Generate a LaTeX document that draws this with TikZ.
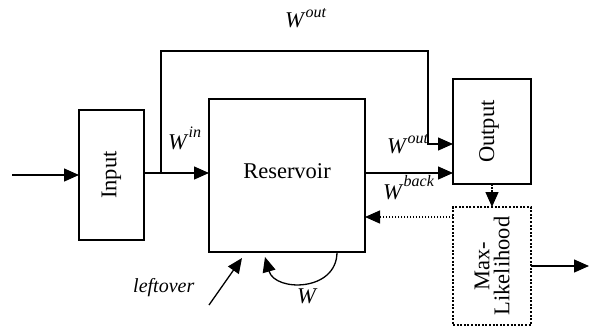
\documentclass[tikz,border=0pt]{standalone}
\usepackage{fontspec}
\setmainfont{Liberation Serif}
\usetikzlibrary{arrows.meta}
\newcommand{\Wsup}[2][11]{\textit{W}\raisebox{#1pt}{\fontsize{16}{16}\selectfont\textit{#2}}}
\begin{document}
\begin{tikzpicture}[x=1pt,y=-1pt,
  box/.style={draw,line width=2pt,inner sep=0pt,outer sep=0pt},
  dotbox/.style={box,dash pattern=on 2pt off 1.6pt},
  conn/.style={line width=1.3pt},
  arr/.style={conn,-{Triangle[length=15pt,width=13pt]}},
  dotarr/.style={arr,dash pattern=on 1.5pt off 1.5pt},
  lab/.style={font=\fontsize{22.5}{20}\selectfont,inner sep=0pt}]
\useasboundingbox (0,0) rectangle (590,327);
% boxes
\node[box,minimum width=65pt,minimum height=130pt] (input) at (111.5,175) {};
\node[box,minimum width=156pt,minimum height=153pt] (res) at (287,175.5) {};
\node[box,minimum width=78pt,minimum height=105pt] (out) at (492,131.5) {};
\node[dotbox,minimum width=78pt,minimum height=118pt] (ml) at (492,266) {};
% box texts
\node[lab,rotate=90] (intext) at (input.center) {Input};
\node[lab,anchor=base] (restext) at (287,178) {Reservoir};
\node[lab,rotate=90] (outtext) at ([xshift=-3pt]out.center) {Output};
\node[lab,rotate=90,align=center] (mltext) at (ml.center) {Max-\\Likelihood};
% coordinates
\coordinate (src) at (12,175);
\coordinate (j) at (161,173);
\coordinate (t1) at (161,51);
\coordinate (t2) at (428,144);
\coordinate (k) at (400,217);
\coordinate (sink) at (589,266);
\coordinate (lo1) at (209,305);
\coordinate (lo2) at (242,258);
\coordinate (w1) at (337,252);
\coordinate (w2) at (265,257);
% connectors
\draw[arr] (src) -- (input.west |- src);
\draw[arr] (input.east |- j) -- (res.west |- j);
\draw[arr] (j) -- (t1) -| (t2) -- (out.west |- t2);
\draw[arr] (res.east |- j) -- (out.west |- j);
\draw[dotarr] (out.south) -- (ml.north);
\draw[dotarr] (ml.west |- k) -- (res.east |- k);
\draw[arr] (ml.east) -- (sink);
\draw[arr] (lo1) -- (lo2);
\draw[arr] (w1) .. controls (337,292) and (275,292) .. (w2);
% labels
\node[lab,anchor=base west] (wout1) at (285,27) {\Wsup[10]{out}};
\node[lab,anchor=base west] (wout2) at (387,153) {\Wsup[10]{out}};
\node[lab,anchor=base west] (win) at (168,149) {\Wsup[12]{in}};
\node[lab,anchor=base west] (wback) at (383,199) {\Wsup[13]{back}};
\node[lab,anchor=base west] (wself) at (297,303) {\textit{W}};
\node[lab,anchor=base west,font=\fontsize{20}{20}\selectfont] (lft) at (133,292) {\textit{leftover}};
\end{tikzpicture}
\end{document}
